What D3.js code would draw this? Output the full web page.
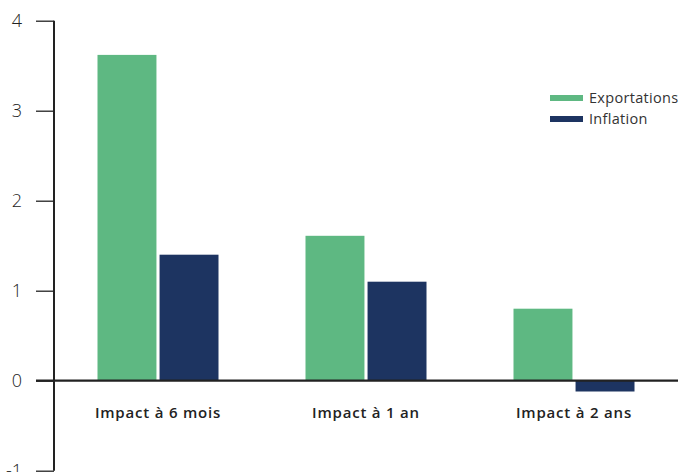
<!DOCTYPE html>
<html><head><meta charset="utf-8">
<script src="https://cdn.jsdelivr.net/npm/d3@7"></script>
<style>body{margin:0;background:#fff}svg{display:block}</style>
</head><body>
<svg id="c" width="680" height="472"></svg>
<script>
const categories = ["Impact à 6 mois", "Impact à 1 an", "Impact à 2 ans"];
const seriesNames = ["Exportations", "Inflation"];
const exportations = [3.62, 1.61, 0.8];
const inflation = [1.4, 1.1, -0.12];
const yTicks = [-1, 0, 1, 2, 3, 4];
const colors = ["#5EB882", "#1D3461"];

const svg = d3.select("#c");
const font = "'Open Sans', sans-serif";
const y = d3.scaleLinear().domain([-1, 4]).range([470.7, 20.7]);
const x0 = d3.scaleBand().domain(categories).range([54, 678]).paddingInner(0).paddingOuter(0);
const x1 = d3.scaleBand().domain(seriesNames).range([0, 121]).paddingInner(0.05);
const data = categories.map((c, i) => ({cat: c, vals: [exportations[i], inflation[i]]}));

const g = svg.append("g");
g.selectAll("g.grp").data(data).join("g")
  .attr("transform", d => `translate(${x0(d.cat) + (x0.bandwidth() - 121) / 2},0)`)
  .selectAll("rect").data(d => d.vals.map((v, j) => ({v, s: seriesNames[j], j})))
  .join("rect")
  .attr("x", d => x1(d.s))
  .attr("width", x1.bandwidth())
  .attr("y", d => y(Math.max(0, d.v)))
  .attr("height", d => Math.abs(y(d.v) - y(0)))
  .attr("fill", d => colors[d.j]);

// y axis
const ya = svg.append("g").attr("transform", "translate(54,0)")
  .call(d3.axisLeft(y).tickValues(yTicks).tickSize(18).tickPadding(14).tickFormat(d => String(d)));
ya.select(".domain").remove();
ya.selectAll(".tick line").attr("stroke", "#222").attr("stroke-width", 1.3);
ya.selectAll(".tick text").attr("font-family", font).attr("font-size", 18).attr("font-weight", 300).attr("fill", "#222");
svg.append("line").attr("x1", 54).attr("x2", 54).attr("y1", y(4)).attr("y2", y(-1))
  .attr("stroke", "#222").attr("stroke-width", 2);
// zero line
svg.append("line").attr("x1", 36).attr("x2", 678).attr("y1", y(0)).attr("y2", y(0))
  .attr("stroke", "#222").attr("stroke-width", 2.2);

// category labels
svg.selectAll("text.cat").data(categories).join("text").attr("class", "cat")
  .attr("x", d => x0(d) + x0.bandwidth() / 2)
  .attr("y", 418)
  .attr("text-anchor", "middle")
  .attr("font-family", font).attr("font-size", 15).attr("font-weight", 600).attr("fill", "#222")
  .attr("letter-spacing", 0.8)
  .text(d => d);

// legend
const lg = svg.append("g").attr("transform", "translate(550,98)");
seriesNames.forEach((s, i) => {
  lg.append("rect").attr("x", 0).attr("y", i * 21 - 3).attr("width", 33).attr("height", 6).attr("fill", colors[i]);
  lg.append("text").attr("x", 39).attr("y", i * 21 + 5).attr("font-family", font).attr("font-size", 14.5)
    .attr("letter-spacing", 0.3)
    .attr("fill", "#333").text(s);
});
</script>
</body></html>
